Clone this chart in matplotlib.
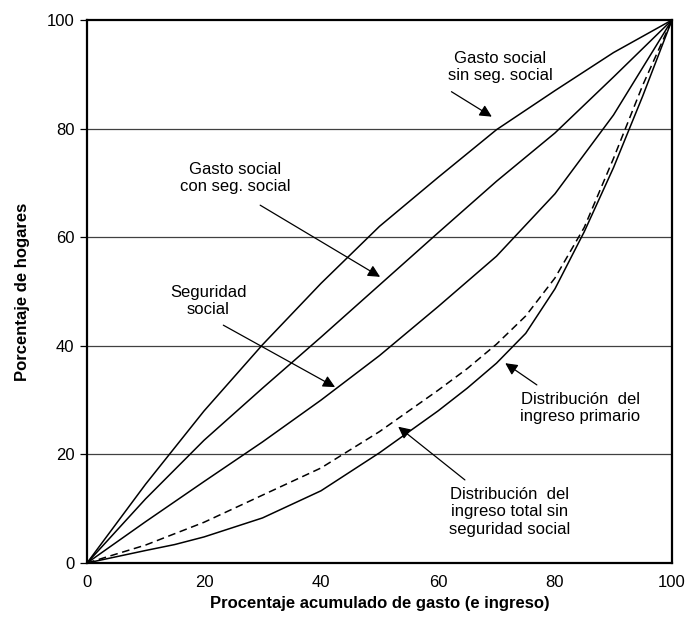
import matplotlib
matplotlib.use("Agg")
import matplotlib.pyplot as plt

plt.rcParams['font.family'] = ['Liberation Sans', 'DejaVu Sans']

# Lorenz / concentration curves
x_pct = [0, 10, 20, 30, 40, 50, 60, 70, 80, 90, 100]
gasto_sin_ss = [0, 14.5, 28.0, 40.2, 51.5, 62.0, 71.0, 79.8, 87.0, 94.0, 100]
gasto_con_ss = [0, 11.8, 22.6, 32.2, 41.6, 51.2, 60.8, 70.3, 79.2, 89.5, 100]
seguridad_social = [0, 7.6, 15.0, 22.3, 30.0, 38.2, 47.2, 56.5, 68.0, 82.5, 100]

x_ing = [0, 10, 15, 20, 30, 40, 50, 60, 65, 70, 75, 80, 85, 90, 95, 100]
ingreso_total_sin_ss = [0, 3.3, 5.4, 7.5, 12.5, 17.5, 24.2, 31.8, 35.8, 40.3, 45.5, 52.5, 61.8, 74.5, 88.0, 100]
ingreso_primario = [0, 2.3, 3.4, 4.8, 8.3, 13.3, 20.3, 28.0, 32.2, 36.8, 42.3, 50.5, 61.0, 72.8, 86.0, 100]

ticks = [0, 20, 40, 60, 80, 100]

fig = plt.figure(figsize=(6.88, 6.18), dpi=100)
ax = fig.add_axes([0.1265, 0.089, 0.8502, 0.8786])

for yv in [20, 40, 60, 80]:
    ax.axhline(yv, color='#404040', lw=0.9, zorder=1)

kw = dict(color='black', lw=1.1, zorder=3)
ax.plot(x_pct, gasto_sin_ss, **kw)
ax.plot(x_pct, gasto_con_ss, **kw)
ax.plot(x_pct, seguridad_social, **kw)
ax.plot(x_ing, ingreso_total_sin_ss, ls=(0, (5, 3)), **kw)
ax.plot(x_ing, ingreso_primario, **kw)

ax.set_xlim(0, 100)
ax.set_ylim(0, 100)
ax.set_xticks(ticks)
ax.set_yticks(ticks)
ax.tick_params(axis='x', length=0, pad=9, labelsize=12)
ax.tick_params(axis='y', length=5, width=0.9, pad=4, labelsize=12)
for s in ax.spines.values():
    s.set_linewidth(1.6)

ax.set_xlabel("Procentaje acumulado de gasto (e ingreso)", fontsize=12,
              fontweight='bold', labelpad=4)
ax.set_ylabel("Porcentaje de hogares", fontsize=12, fontweight='bold', labelpad=12)

arrow = dict(arrowstyle='-|>', color='black', lw=0.9, mutation_scale=18,
             shrinkA=0, shrinkB=0)
notes = [
    ("Gasto social\nsin seg. social", (70.6, 91.3), (62.3, 86.8), (69.2, 82.2)),
    ("Gasto social\ncon seg. social", (25.3, 70.9), (29.6, 65.9), (50.1, 52.7)),
    ("Seguridad\nsocial", (20.7, 48.3), (23.3, 43.8), (42.4, 32.4)),
    ("Distribución  del\ningreso primario", (84.3, 28.5), (76.9, 32.8), (71.5, 36.8)),
    ("Distribución  del\ningreso total sin\nseguridad social", (72.3, 9.4), (64.6, 15.3), (53.2, 25.1)),
]
for label, pos, tail, head in notes:
    ax.text(pos[0], pos[1], label, ha='center', va='center', fontsize=12,
            linespacing=1.2, zorder=4)
    ax.annotate("", xy=head, xytext=tail, arrowprops=arrow, zorder=4)

fig.savefig("out.png", dpi=100)
